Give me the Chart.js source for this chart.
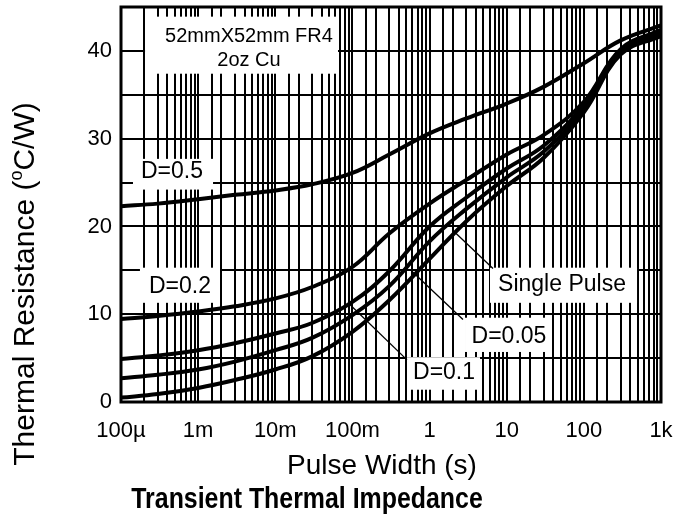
<!DOCTYPE html>
<html>
<head>
<meta charset="utf-8">
<title>Transient Thermal Impedance</title>
<script src="https://cdn.jsdelivr.net/npm/chart.js@4.4.0/dist/chart.umd.min.js"></script>
<style>
  html, body { margin: 0; padding: 0; background: #fff; }
  #grafico { display: block; }
</style>
</head>
<body>
<canvas id="grafico" width="677" height="525"></canvas>
<script>
// pulse width (s), one point every half decade
const pulseWidth = [1e-4, 3e-4, 1e-3, 3e-3, 1e-2, 3e-2, 0.1, 0.3, 1, 3, 10, 30, 100, 300, 1000];

// thermal resistance (°C/W)
const d050 = [22.3, 22.6, 23.1, 23.6, 24.1, 24.8, 26.1, 28.2, 30.6, 32.3, 34.0, 35.9, 38.6, 41.2, 42.9];
const d020 = [9.45, 9.8, 10.3, 10.9, 11.8, 13.1, 15.4, 19.2, 22.6, 25.3, 28.2, 30.4, 34.2, 40.2, 42.4];
const d010 = [4.9, 5.3, 5.9, 6.7, 7.8, 9.0, 11.4, 14.9, 20.0, 23.3, 26.6, 29.2, 33.8, 40.0, 42.1];
const d005 = [2.7, 3.1, 3.7, 4.6, 5.9, 7.3, 9.9, 13.2, 18.3, 22.0, 25.6, 28.5, 33.4, 39.8, 41.9];
const singlePulse = [0.5, 0.9, 1.6, 2.5, 3.7, 5.2, 8.0, 11.6, 16.3, 20.6, 24.6, 27.8, 33.0, 39.6, 41.7];

const seriesNames = ['D=0.5', 'D=0.2', 'D=0.1', 'D=0.05', 'Single Pulse'];

// axis labels
const xTickLabels = ['100µ', '1m', '10m', '100m', '1', '10', '100', '1k'];
const yTickLabels = [0, 10, 20, 30, 40];

const FONTE = "'Liberation Sans', Arial, sans-serif";

// white label boxes, leader lines and titles
const notas = {
  id: 'notas',
  beforeDatasetsDraw(chart, args, opts) {
    const { ctx, scales: { x, y } } = chart;
    ctx.save();
    opts.caixas.forEach(c => {
      const x1 = x.getPixelForValue(c.x1), x2 = x.getPixelForValue(c.x2);
      const y1 = y.getPixelForValue(c.y1), y2 = y.getPixelForValue(c.y2);
      ctx.fillStyle = '#fff';
      ctx.fillRect(x1, y2, x2 - x1, y1 - y2);
      ctx.fillStyle = '#000';
      ctx.font = c.fonte;
      ctx.textAlign = 'center';
      ctx.textBaseline = 'middle';
      c.texto.forEach((t, i) => ctx.fillText(t, x.getPixelForValue(c.tx), y.getPixelForValue(c.ty[i])));
    });
    ctx.strokeStyle = '#000';
    ctx.lineWidth = 1.3;
    opts.linhas.forEach(l => {
      ctx.beginPath();
      ctx.moveTo(x.getPixelForValue(l[0]), y.getPixelForValue(l[1]));
      ctx.lineTo(x.getPixelForValue(l[2]), y.getPixelForValue(l[3]));
      ctx.stroke();
    });
    ctx.restore();
  },
  afterDraw(chart) {
    const { ctx, chartArea: a } = chart;
    ctx.save();
    // moldura do gráfico
    ctx.strokeStyle = '#000';
    ctx.lineWidth = 3;
    ctx.strokeRect(a.left, a.top, a.right - a.left, a.bottom - a.top);

    ctx.fillStyle = '#000';
    ctx.textAlign = 'center';
    ctx.textBaseline = 'middle';
    ctx.font = '28px ' + FONTE;
    ctx.fillText('Pulse Width (s)', 382, 466);

    // título em negrito, estreitado na horizontal
    ctx.save();
    ctx.translate(307, 500);
    ctx.scale(0.83, 1);
    ctx.font = 'bold 30px ' + FONTE;
    ctx.fillText('Transient Thermal Impedance', 0, 0);
    ctx.restore();

    // y title with superscript o
    ctx.translate(26, 284);
    ctx.rotate(-Math.PI / 2);
    const p1 = 'Thermal Resistance (', p2 = 'o', p3 = 'C/W)';
    ctx.font = '30px ' + FONTE;
    const w1 = ctx.measureText(p1).width, w3 = ctx.measureText(p3).width;
    ctx.font = '18px ' + FONTE;
    const w2 = ctx.measureText(p2).width;
    let cx = -(w1 + w2 + w3) / 2;
    ctx.textAlign = 'left';
    ctx.font = '30px ' + FONTE;
    ctx.fillText(p1, cx, 0);
    cx += w1;
    ctx.font = '18px ' + FONTE;
    ctx.fillText(p2, cx, -9);
    cx += w2;
    ctx.font = '30px ' + FONTE;
    ctx.fillText(p3, cx, 0);
    ctx.restore();
  }
};

const serieValores = [d050, d020, d010, d005, singlePulse];

new Chart(document.getElementById('grafico'), {
  type: 'line',
  data: {
    datasets: serieValores.map((vals, i) => ({
      label: seriesNames[i],
      data: pulseWidth.map((t, k) => ({ x: t, y: vals[k] })),
      borderColor: '#000',
      borderWidth: 4,
      pointRadius: 0,
      fill: false,
      tension: 0.4
    }))
  },
  options: {
    responsive: false,
    animation: false,
    layout: { padding: { top: 7, right: 16, left: 0, bottom: 0 } },
    plugins: {
      legend: { display: false },
      tooltip: { enabled: false },
      notas: {
        caixas: [
          { x1: 2.05e-4, x2: 0.065, y1: 37.4, y2: 43.9, tx: 4.56e-3, ty: [41.6, 38.9],
            texto: ['52mmX52mm FR4', '2oz Cu'], fonte: '20px ' + FONTE },
          { x1: 1.43e-4, x2: 1.56e-3, y1: 24.2, y2: 27.7, tx: 4.58e-4, ty: [26.2],
            texto: [seriesNames[0]], fonte: '23px ' + FONTE },
          { x1: 1.76e-4, x2: 1.92e-3, y1: 11.3, y2: 15.3, tx: 5.82e-4, ty: [13.1],
            texto: [seriesNames[1]], fonte: '23px ' + FONTE },
          { x1: 6.07, x2: 489, y1: 11.3, y2: 15.3, tx: 52.1, ty: [13.4],
            texto: [seriesNames[4]], fonte: '23px ' + FONTE },
          { x1: 2.88, x2: 36.4, y1: 5.7, y2: 9.6, tx: 10.7, ty: [7.4],
            texto: [seriesNames[3]], fonte: '23px ' + FONTE },
          { x1: 0.51, x2: 4.51, y1: 1.4, y2: 5.1, tx: 1.54, ty: [3.3],
            texto: [seriesNames[2]], fonte: '23px ' + FONTE }
        ],
        linhas: [
          [2.14, 19.3, 6.64, 15.2],
          [0.59, 14.9, 2.71, 9.4],
          [0.0877, 11.3, 0.51, 4.8]
        ]
      }
    },
    scales: {
      x: {
        type: 'logarithmic',
        min: 1e-4,
        max: 1e3,
        border: { display: false },
        grid: { color: '#000', lineWidth: 2, drawTicks: false },
        ticks: {
          autoSkip: false,
          maxRotation: 0,
          minRotation: 0,
          padding: 16,
          color: '#000',
          font: { family: FONTE, size: 22 },
          callback: v => {
            const e = Math.log10(v);
            const r = Math.round(e);
            return Math.abs(e - r) < 1e-6 ? xTickLabels[r + 4] : '';
          }
        },
        afterFit: s => { s.height = 123; s.paddingLeft = 0; s.paddingRight = 0; }
      },
      y: {
        min: 0,
        max: 45,
        border: { display: false },
        grid: { color: '#000', lineWidth: 2, drawTicks: false },
        ticks: {
          stepSize: 5,
          padding: 9,
          color: '#000',
          font: { family: FONTE, size: 22 },
          callback: v => yTickLabels.includes(v) ? v : ''
        },
        afterFit: s => { s.width = 121; s.paddingTop = 0; s.paddingBottom = 0; }
      }
    }
  },
  plugins: [notas]
});
</script>
</body>
</html>
